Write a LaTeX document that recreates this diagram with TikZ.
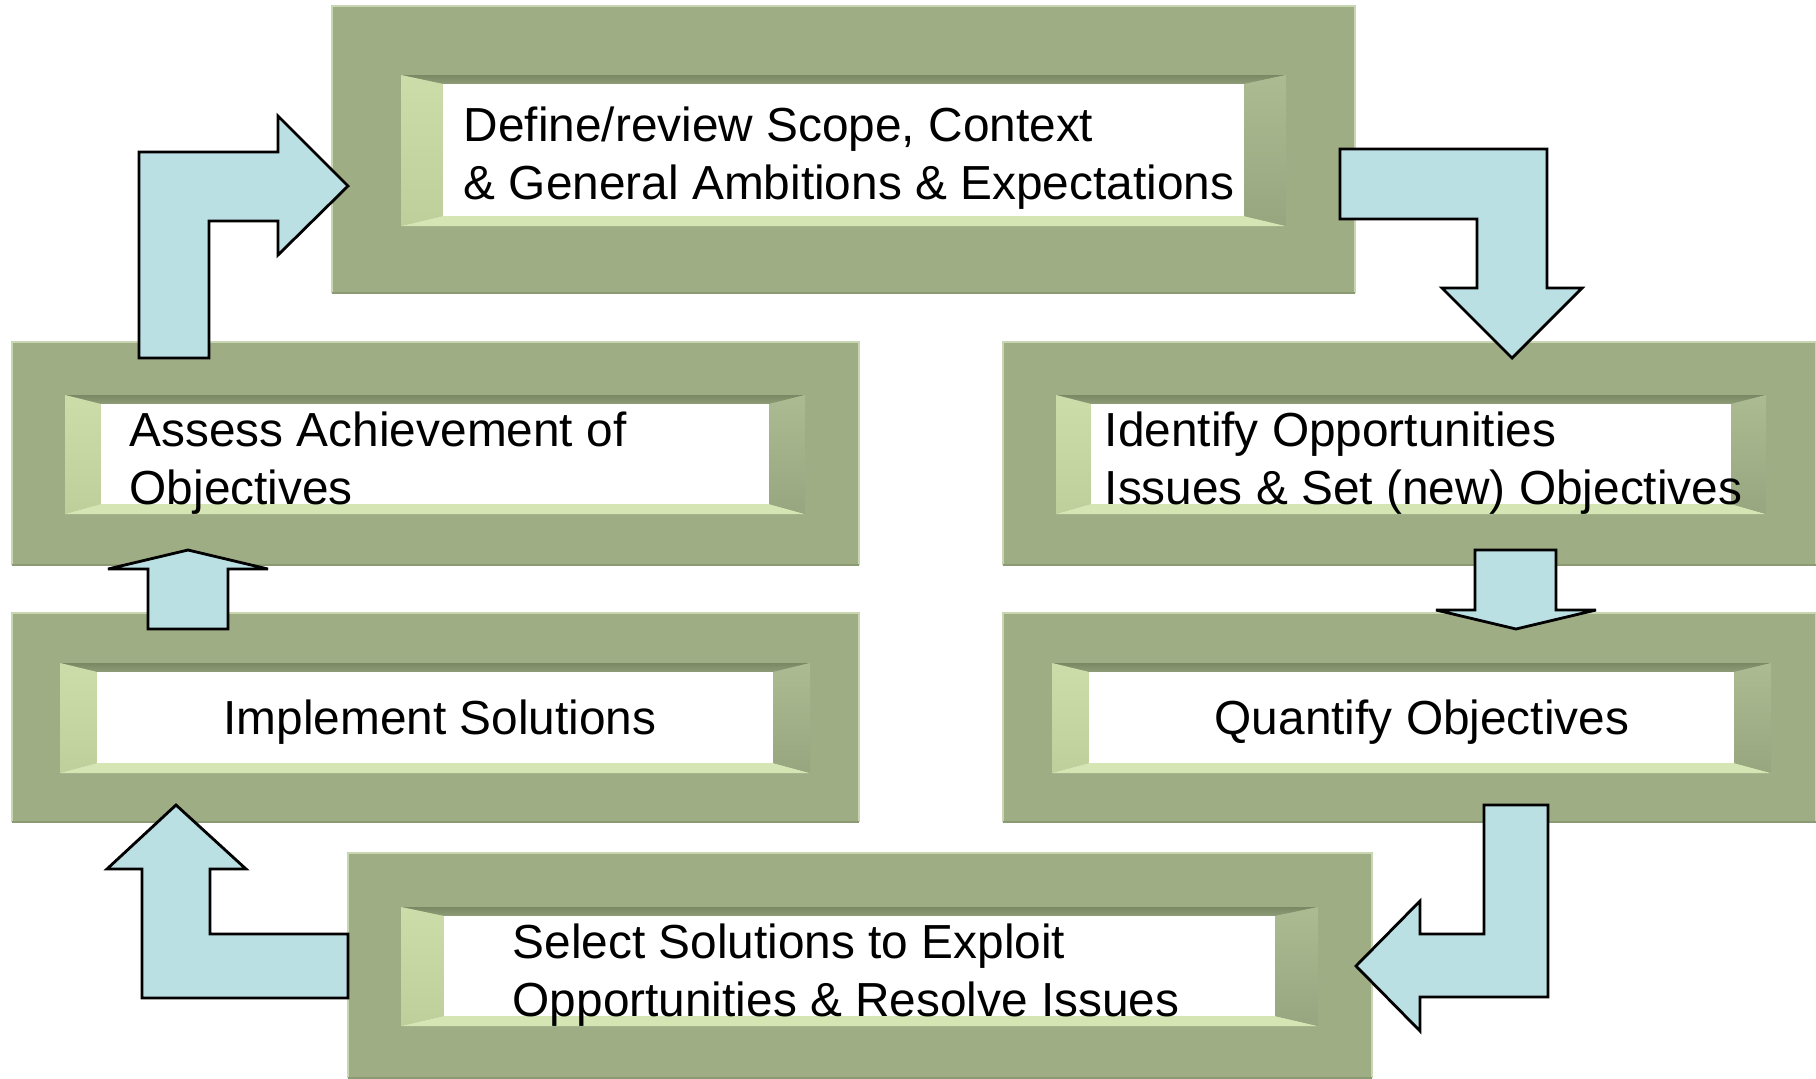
\documentclass[tikz,border=0pt]{standalone}
\usepackage{fontspec}
\setmainfont{Liberation Sans}
\definecolor{plategreen}{RGB}{159,173,133}
\definecolor{plateedge}{RGB}{200,214,178}
\definecolor{plateshadow}{RGB}{140,154,116}
\definecolor{bevtopA}{RGB}{122,136,100}
\definecolor{bevtopB}{RGB}{142,157,119}
\definecolor{bevleftA}{RGB}{205,221,170}
\definecolor{bevleftB}{RGB}{190,207,155}
\definecolor{bevbottom}{RGB}{213,230,180}
\definecolor{bevrightA}{RGB}{172,187,145}
\definecolor{bevrightB}{RGB}{152,166,128}
\definecolor{arrowblue}{RGB}{187,224,227}

% plate with a sunken white window
% #1-#4 plate, #5-#8 window, #9 side bevel width
\newcommand\bevelbox[9]{%
  \fill[plategreen] (#1,#2) rectangle (#3,#4);
  \draw[plateedge, line width=0.4pt] (#1,#4) -- (#1,#2) -- (#3,#2) -- (#3,#4);
  \draw[plateshadow, line width=0.4pt] (#1,#4) -- (#3,#4);
  \shade[top color=bevtopA, bottom color=bevtopB]
    (#5,#6) -- (#7,#6) -- (#7-#9,#6+9) -- (#5+#9,#6+9) -- cycle;
  \shade[top color=bevleftA, bottom color=bevleftB]
    (#5,#6) -- (#5+#9,#6+9) -- (#5+#9,#8-10) -- (#5,#8) -- cycle;
  \fill[bevbottom] (#5,#8) -- (#5+#9,#8-10) -- (#7-#9,#8-10) -- (#7,#8) -- cycle;
  \shade[top color=bevrightA, bottom color=bevrightB]
    (#7,#6) -- (#7,#8) -- (#7-#9,#8-10) -- (#7-#9,#6+9) -- cycle;
  \fill[white] (#5+#9,#6+9) rectangle (#7-#9,#8-10);
}

\begin{document}
\begin{tikzpicture}[x=0.1mm, y=-0.1mm,
    steptext/.style={font=\fontsize{13.6pt}{16.5pt}\selectfont, align=left, inner sep=0pt},
    blockarrow/.style={fill=arrowblue, draw=black, line width=0.8pt, line join=miter, miter limit=3}]
  \useasboundingbox (0,0) rectangle (1816,1078);

  % plates
  \bevelbox{332}{6}{1355}{293}{401}{75}{1286}{226}{42}
  \bevelbox{12}{342}{859}{565}{65}{395}{805}{514}{36}
  \bevelbox{1003}{342}{1816}{565}{1056}{395}{1766}{514}{35}
  \bevelbox{12}{613}{859}{822}{60}{663}{810}{773}{37}
  \bevelbox{1003}{613}{1816}{822}{1052}{663}{1771}{773}{37}
  \bevelbox{348}{853}{1372}{1078}{401}{907}{1318}{1026}{43}

  % step texts
  \node[steptext, anchor=west] (define) at (463,158)
    {Define/review Scope, Context\\\& General Ambitions \& Expectations};
  \node[steptext, anchor=west] (identify) at (1104,463)
    {Identify Opportunities\\Issues \& Set (new) Objectives};
  \node[steptext] (quantify) at (1422,722) {Quantify Objectives};
  \node[steptext, anchor=west] (select) at (512,975)
    {Select Solutions to Exploit\\Opportunities \& Resolve Issues};
  \node[steptext] (implement) at (440,722) {Implement Solutions};
  \node[steptext, anchor=west] (assess) at (129,463)
    {Assess Achievement of\\Objectives};

  % block arrows round the cycle
  \filldraw[blockarrow] (1340,149) -- (1547,149) -- (1547,288) -- (1582,288) -- (1512,358)
    -- (1442,288) -- (1477,288) -- (1477,219) -- (1340,219) -- cycle;
  \filldraw[blockarrow] (1475,550) -- (1556,550) -- (1556,610) -- (1596,610) -- (1516,629)
    -- (1436,610) -- (1475,610) -- cycle;
  \filldraw[blockarrow] (1484,805) -- (1548,805) -- (1548,997) -- (1420,997) -- (1420,1031)
    -- (1356,966) -- (1420,901) -- (1420,934) -- (1484,934) -- cycle;
  \filldraw[blockarrow] (348,934) -- (348,998) -- (142,998) -- (142,869) -- (107,869)
    -- (176,805) -- (246,869) -- (210,869) -- (210,934) -- cycle;
  \filldraw[blockarrow] (148,629) -- (148,569) -- (108,569) -- (188,550) -- (268,569)
    -- (228,569) -- (228,629) -- cycle;
  \filldraw[blockarrow] (139,358) -- (139,152) -- (278,152) -- (278,116) -- (348,186)
    -- (278,255) -- (278,221) -- (209,221) -- (209,358) -- cycle;
\end{tikzpicture}
\end{document}
